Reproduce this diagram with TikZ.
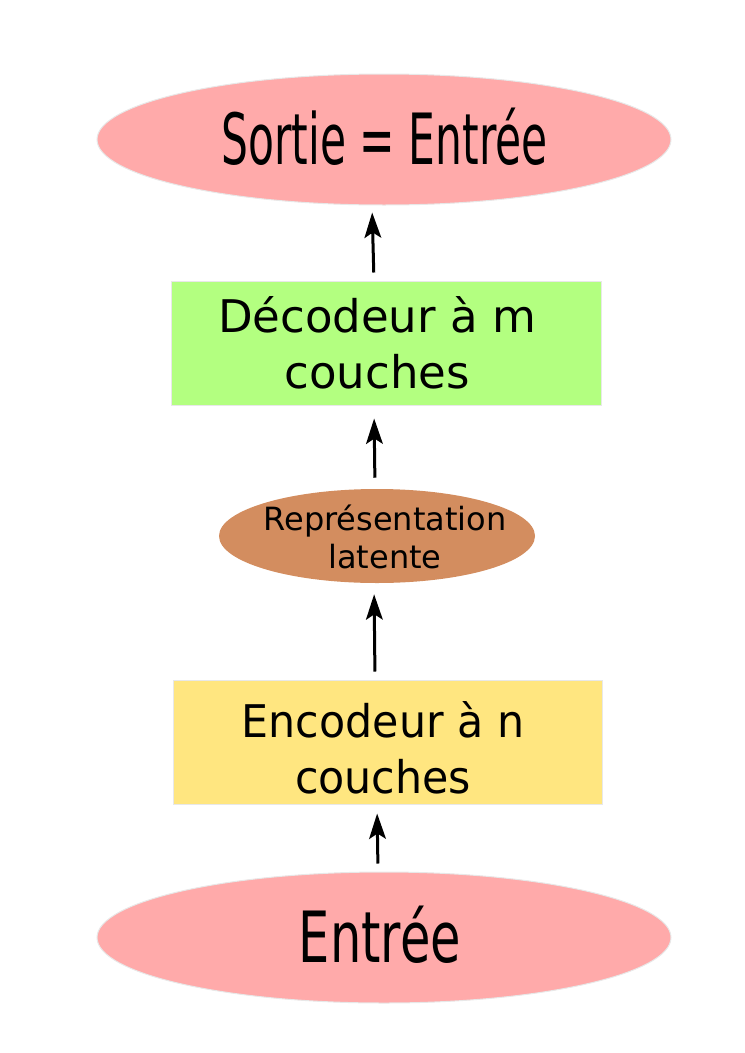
\documentclass[tikz,border=0pt]{standalone}
\usepackage{fontspec}
\setmainfont{DejaVu Sans}
\usetikzlibrary{shapes.geometric,arrows.meta}

\definecolor{pinkfill}{HTML}{FFAAAA}
\definecolor{greenfill}{HTML}{B3FF80}
\definecolor{brownfill}{HTML}{D38D5F}
\definecolor{yellowfill}{HTML}{FFE680}
\definecolor{edgegray}{HTML}{E8E8E8}

% text of a node, moved by (dx,dy) from its centre; the node keeps its minimum size
\newcommand{\twolines}[2]{\begin{tabular}[t]{@{}c@{}}#1\\#2\end{tabular}}
\newcommand{\movetext}[3]{\makebox[0pt]{\hspace*{#1}\hspace*{#1}\smash{\raisebox{#2}{#3}}}}

\tikzset{
  blob/.style={ellipse, fill=pinkfill, draw=edgegray, line width=0.75pt,
    minimum width=430.5pt, minimum height=98.25pt, inner sep=0pt,
    font=\fontsize{53}{64}\selectfont},
  layerbox/.style={rectangle, draw=edgegray, line width=0.75pt,
    minimum width=322pt, minimum height=93pt, inner sep=0pt,
    font=\fontsize{33.75}{42}\selectfont},
  codebox/.style={ellipse, fill=brownfill, minimum width=237pt,
    minimum height=70.5pt, inner sep=0pt,
    font=\fontsize{24}{28.5}\selectfont},
  flow/.style={-{Stealth[length=19pt,width=12.5pt,inset=4pt]}, line width=2.25pt}
}

\begin{document}
\begin{tikzpicture}[x=0.75pt,y=-0.75pt]
\useasboundingbox (0,0) rectangle (745,1053);

% nodes, top to bottom in the page
\node[blob] (out) at (384,139.5)
  {\movetext{0.5pt}{-19.1pt}{\scalebox{0.6}[1]{Sortie = Entrée}}};
\node[layerbox, fill=greenfill] (dec) at (386.5,343)
  {\movetext{-7.1pt}{8.25pt}{\twolines{Décodeur à m}{couches}}};
\node[codebox] (lat) at (377,536)
  {\movetext{6pt}{4.5pt}{\twolines{Représentation}{latente}}};
\node[layerbox, fill=yellowfill] (enc) at (388,742)
  {\movetext{-3.75pt}{3.75pt}{\scalebox{0.95}[1]{\twolines{Encodeur à n}{couches}}}};
\node[blob] (in) at (384,937.5)
  {\movetext{-3pt}{-19.1pt}{\scalebox{0.7}[1]{Entrée}}};

% arrows
\draw[flow, shorten <=6pt, shorten >=6.75pt] ([xshift=-4.5pt]in.north) -- ([xshift=-8.25pt]enc.south);
\draw[flow, shorten <=6pt, shorten >=8.25pt] ([xshift=-9.75pt]enc.north) -- ([xshift=-2.25pt]lat.south);
\draw[flow, shorten <=8.25pt, shorten >=9.75pt] ([xshift=-1.5pt]lat.north) -- ([xshift=-9.4pt]dec.south);
\draw[flow, shorten <=6pt, shorten >=5.25pt] ([xshift=-9.4pt]dec.north) -- ([xshift=-9pt]out.south);
\end{tikzpicture}
\end{document}
